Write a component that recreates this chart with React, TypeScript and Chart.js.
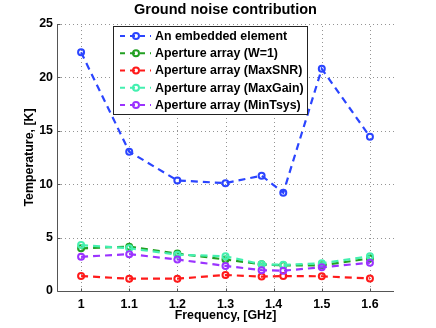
import { useEffect, useRef } from 'react';
import { Chart, registerables } from 'chart.js';

Chart.register(...registerables);

const frequencies = [1, 1.1, 1.2, 1.3, 1.375, 1.42, 1.5, 1.6];
const embeddedElement = [22.35, 13.05, 10.35, 10.1, 10.8, 9.2, 20.8, 14.45];
const apertureW1 = [4.0, 4.15, 3.5, 2.95, 2.5, 2.4, 2.4, 3.05];
const apertureMaxSNR = [1.4, 1.15, 1.15, 1.5, 1.35, 1.4, 1.38, 1.18];
const apertureMaxGain = [4.3, 4.0, 3.4, 3.25, 2.5, 2.45, 2.6, 3.25];
const apertureMinTsys = [3.2, 3.45, 2.95, 2.35, 1.95, 1.9, 2.22, 2.65];

const seriesLabels = [
  'An embedded element',
  'Aperture array (W=1)',
  'Aperture array (MaxSNR)',
  'Aperture array (MaxGain)',
  'Aperture array (MinTsys)',
];
const seriesColors = ['#2b45ff', '#22a022', '#ff1a1a', '#44f0b0', '#9b33ff'];
const xTickValues = [1, 1.1, 1.2, 1.3, 1.4, 1.5, 1.6];
const yTickValues = [0, 5, 10, 15, 20, 25];

const titleText = 'Ground noise contribution';
const xTitle = 'Frequency, [GHz]';
const yTitle = 'Temperature, [K]';

const FONT = "'Liberation Sans', Arial, Helvetica, sans-serif";
const LABEL_SIZE = 12.4;

const gridPlugin = {
  id: 'dottedGrid',
  beforeDatasetsDraw(chart: any) {
    const { ctx, chartArea, scales } = chart;
    const { left, right, top, bottom } = chartArea;
    ctx.save();
    ctx.strokeStyle = 'rgba(0,0,0,0.42)';
    ctx.lineWidth = 1;
    ctx.setLineDash([1, 3]);
    xTickValues.forEach((v) => {
      const x = Math.round(scales.x.getPixelForValue(v)) + 0.5;
      ctx.beginPath();
      ctx.moveTo(x, bottom);
      ctx.lineTo(x, top);
      ctx.stroke();
    });
    yTickValues.forEach((v) => {
      if (v === 0) return;
      const y = Math.round(scales.y.getPixelForValue(v)) + 0.5;
      ctx.beginPath();
      ctx.moveTo(left, y);
      ctx.lineTo(right, y);
      ctx.stroke();
    });
    ctx.setLineDash([]);
    ctx.strokeStyle = '#555';
    const ax = Math.round(left) + 0.5;
    const ay = Math.round(bottom) + 0.5;
    ctx.beginPath();
    ctx.moveTo(ax, top);
    ctx.lineTo(ax, ay);
    ctx.lineTo(right, ay);
    xTickValues.forEach((v) => {
      const x = Math.round(scales.x.getPixelForValue(v)) + 0.5;
      ctx.moveTo(x, ay);
      ctx.lineTo(x, ay - 3);
    });
    yTickValues.forEach((v) => {
      const y = Math.round(scales.y.getPixelForValue(v)) + 0.5;
      ctx.moveTo(ax, y);
      ctx.lineTo(ax + 3, y);
    });
    ctx.stroke();
    ctx.restore();
  },
};

const overlayPlugin = {
  id: 'overlay',
  afterDraw(chart: any) {
    const { ctx, chartArea } = chart;
    ctx.save();
    ctx.font = `bold 14.5px ${FONT}`;
    ctx.fillStyle = '#000';
    ctx.textAlign = 'center';
    ctx.textBaseline = 'middle';
    ctx.fillText(titleText, (chartArea.left + chartArea.right) / 2, 10);

    const bx = Math.round(chartArea.left + 56);
    const by = Math.round(chartArea.top + 2);
    const bw = 194;
    const bh = 88;
    ctx.fillStyle = '#fff';
    ctx.fillRect(bx, by, bw, bh);
    ctx.strokeStyle = '#222';
    ctx.lineWidth = 1;
    ctx.setLineDash([]);
    ctx.strokeRect(bx + 0.5, by + 0.5, bw, bh);
    ctx.font = `bold ${LABEL_SIZE}px ${FONT}`;
    ctx.textAlign = 'left';
    ctx.textBaseline = 'middle';
    chart.data.datasets.forEach((ds: any, i: number) => {
      const y = by + 10 + i * 17.25;
      ctx.strokeStyle = ds.borderColor;
      ctx.lineWidth = 2;
      ctx.setLineDash([5, 5]);
      ctx.beginPath();
      ctx.moveTo(bx + 7, y);
      ctx.lineTo(bx + 38, y);
      ctx.stroke();
      ctx.setLineDash([]);
      ctx.beginPath();
      ctx.arc(bx + 23, y, 3, 0, Math.PI * 2);
      ctx.stroke();
      ctx.fillStyle = '#000';
      ctx.fillText(ds.label, bx + 42, y + 0.5);
    });
    ctx.restore();
  },
};

export default function App() {
  const ref = useRef<HTMLCanvasElement | null>(null);
  useEffect(() => {
    document.body.style.margin = '0';
    const canvas = ref.current;
    if (!canvas) return;
    const allSeries = [embeddedElement, apertureW1, apertureMaxSNR, apertureMaxGain, apertureMinTsys];
    const datasets = allSeries.map((vals, i) => ({
      label: seriesLabels[i],
      data: frequencies.map((f, j) => ({ x: f, y: vals[j] })),
      borderColor: seriesColors[i],
      backgroundColor: seriesColors[i],
      pointBorderColor: seriesColors[i],
      pointBackgroundColor: 'rgba(0,0,0,0)',
      pointRadius: 3,
      pointBorderWidth: 2,
      borderWidth: 2.2,
      borderDash: [7, 5],
      fill: false,
      tension: 0,
      order: allSeries.length - i,
    }));
    const gridOpts = { display: false, drawTicks: false };
    const borderOpts = { display: false };
    const labelFont = { family: FONT, size: LABEL_SIZE, weight: 'bold' };
    const chart = new Chart(canvas, {
      type: 'line',
      data: { datasets },
      plugins: [gridPlugin, overlayPlugin],
      options: {
        responsive: false,
        animation: false,
        devicePixelRatio: 1,
        layout: { padding: { top: 24, right: 42, left: 0, bottom: 0 } },
        plugins: { legend: { display: false }, title: { display: false }, tooltip: { enabled: false } },
        scales: {
          x: {
            type: 'linear',
            min: 0.95,
            max: 1.65,
            afterBuildTicks: (s: any) => {
              s.ticks = xTickValues.map((v) => ({ value: v }));
            },
            afterFit: (s: any) => {
              s.height = 37;
            },
            ticks: {
              callback: (v: any) => String(Math.round(Number(v) * 10) / 10),
              font: labelFont,
              color: '#000',
              padding: 6,
              maxRotation: 0,
              autoSkip: false,
            },
            grid: gridOpts,
            border: borderOpts,
            title: {
              display: true,
              text: xTitle,
              font: labelFont,
              color: '#000',
              padding: { top: 0, bottom: 5 },
            },
          },
          y: {
            min: 0,
            max: 25,
            afterBuildTicks: (s: any) => {
              s.ticks = yTickValues.map((v) => ({ value: v }));
            },
            afterFit: (s: any) => {
              s.width = 57;
            },
            ticks: {
              font: labelFont,
              color: '#000',
              padding: 4,
            },
            grid: gridOpts,
            border: borderOpts,
            title: {
              display: true,
              text: yTitle,
              font: labelFont,
              color: '#000',
              padding: { top: 22, bottom: 0 },
            },
          },
        },
      } as any,
    });
    return () => chart.destroy();
  }, []);
  return <canvas ref={ref} width={436} height={328} style={{ display: 'block' }} />;
}
